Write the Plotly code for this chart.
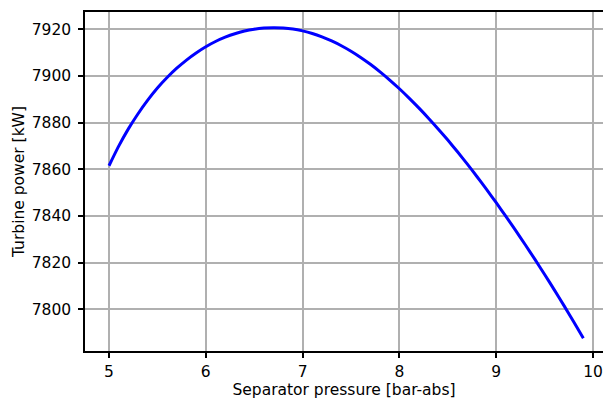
import plotly.graph_objects as go

pressure = [5.0, 5.1, 5.2, 5.3, 5.4, 5.5, 5.6, 5.7, 5.8, 5.9,
            6.0, 6.1, 6.2, 6.3, 6.4, 6.5, 6.6, 6.7, 6.8, 6.9,
            7.0, 7.1, 7.2, 7.3, 7.4, 7.5, 7.6, 7.7, 7.8, 7.9,
            8.0, 8.1, 8.2, 8.3, 8.4, 8.5, 8.6, 8.7, 8.8, 8.9,
            9.0, 9.1, 9.2, 9.3, 9.4, 9.5, 9.6, 9.7, 9.8, 9.9]
power = [7861.5, 7869.9, 7877.3, 7883.8, 7889.6, 7894.8, 7899.3, 7903.3, 7906.8, 7909.85,
         7912.5, 7914.75, 7916.6, 7918.1, 7919.25, 7920.05, 7920.53, 7920.7, 7920.55, 7920.1,
         7919.3, 7918.2, 7916.75, 7915.0, 7912.95, 7910.6, 7907.95, 7905.0, 7901.75, 7898.25,
         7894.5, 7890.5, 7886.3, 7881.9, 7877.3, 7872.5, 7867.5, 7862.3, 7856.9, 7851.35,
         7845.65, 7839.8, 7833.8, 7827.65, 7821.35, 7814.9, 7808.3, 7801.55, 7794.65, 7787.6]

x_ticks = [5, 6, 7, 8, 9, 10]
y_ticks = [7800, 7820, 7840, 7860, 7880, 7900, 7920]

font = dict(family="DejaVu Sans", size=15.5, color="black")

fig = go.Figure()
fig.add_trace(go.Scatter(x=pressure, y=power, mode="lines",
                         line=dict(color="blue", width=3, shape="spline", smoothing=0.6),
                         showlegend=False))

fig.update_layout(
    width=603, height=399,
    margin=dict(l=85, r=0, t=12, b=48),
    paper_bgcolor="white", plot_bgcolor="white",
    font=font,
)
fig.update_xaxes(
    range=[4.752, 10.103],
    tickvals=x_ticks, ticktext=[str(v) for v in x_ticks],
    showgrid=True, gridcolor="#b0b0b0", gridwidth=1.5,
    showline=True, linecolor="black", linewidth=1.5, mirror=True,
    ticks="outside", ticklen=5, tickwidth=1.5, tickcolor="black",
    ticklabelstandoff=1,
    zeroline=False,
    title=dict(text="Separator pressure [bar-abs]", font=font, standoff=5),
)
fig.update_yaxes(
    range=[7782.1, 7927.4],
    tickvals=y_ticks, ticktext=[str(v) for v in y_ticks],
    showgrid=True, gridcolor="#b0b0b0", gridwidth=1.5,
    showline=True, linecolor="black", linewidth=1.5, mirror=False,
    ticks="outside", ticklen=5, tickwidth=1.5, tickcolor="black",
    ticklabelstandoff=4,
    zeroline=False,
    title=dict(text="Turbine power [kW]", font=font, standoff=3),
)

fig.write_html("out.html")
